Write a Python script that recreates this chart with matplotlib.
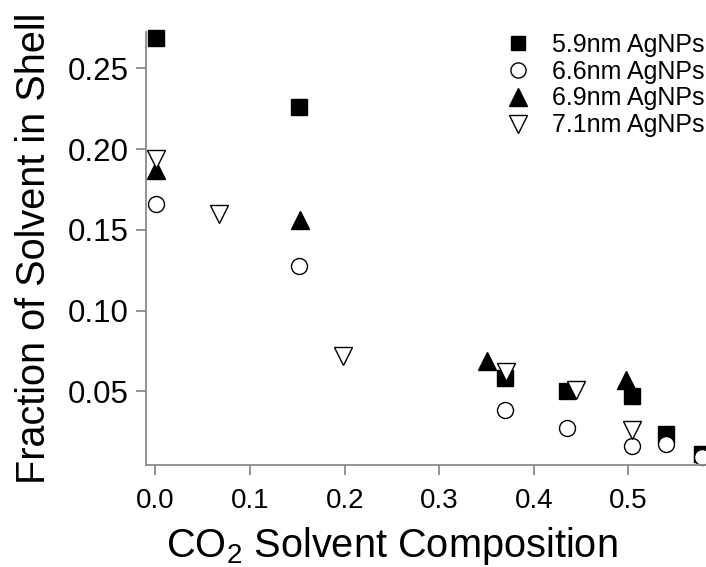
import matplotlib
matplotlib.use("Agg")
import matplotlib.pyplot as plt

plt.rcParams['font.family'] = ['Liberation Sans', 'DejaVu Sans']
plt.rcParams['mathtext.fontset'] = 'custom'
plt.rcParams['mathtext.rm'] = 'Liberation Sans'

# --- data ---
x_59 = [0.001, 0.152, 0.370, 0.435, 0.504, 0.540, 0.578]
y_59 = [0.269, 0.226, 0.0585, 0.050, 0.047, 0.0234, 0.0114]

x_66 = [0.001, 0.152, 0.370, 0.435, 0.504, 0.540, 0.578]
y_66 = [0.166, 0.1276, 0.0387, 0.0275, 0.0165, 0.0172, 0.0093]

x_69 = [0.001, 0.153, 0.351, 0.497]
y_69 = [0.187, 0.156, 0.0688, 0.0572]

x_71 = [0.001, 0.067, 0.1985, 0.371, 0.445, 0.504]
y_71 = [0.1936, 0.160, 0.0717, 0.062, 0.0506, 0.0263]

labels = ["5.9nm AgNPs", "6.6nm AgNPs", "6.9nm AgNPs", "7.1nm AgNPs"]
xticks = [0.0, 0.1, 0.2, 0.3, 0.4, 0.5]
yticks = [0.05, 0.10, 0.15, 0.20, 0.25]

W, H = 706, 567
fig = plt.figure(figsize=(W / 100, H / 100), dpi=100)
# axes box in pixels: left 145.7, right 706, top 32, bottom 465.3
ax = fig.add_axes([145.7 / W, 1 - 465.3 / H, (W - 145.7) / W, (465.3 - 32) / H])

ax.plot(x_59, y_59, 's', ms=11, mfc='black', mec='black', mew=1, label=labels[0], clip_on=False)
ax.plot(x_66, y_66, 'o', ms=11.5, mfc='white', mec='black', mew=1, label=labels[1], clip_on=False)
ax.plot(x_69, y_69, '^', ms=13, mfc='black', mec='black', mew=1, label=labels[2], clip_on=False)
ax.plot(x_71, y_71, 'v', ms=13, mfc='white', mec='black', mew=1, label=labels[3], clip_on=False)

ax.set_xlim(-0.0103, 0.582)
ax.set_ylim(0.0043, 0.2725)
ax.set_xticks(xticks)
ax.set_xticklabels([f"{t:.1f}" for t in xticks])
ax.set_yticks(yticks)
ax.set_yticklabels([f"{t:.2f}" for t in yticks])

gray = '#8a8a8a'
for s in ['top', 'right']:
    ax.spines[s].set_visible(False)
for s in ['left', 'bottom']:
    ax.spines[s].set_color(gray)
    ax.spines[s].set_linewidth(1.3)
ax.tick_params(axis='both', colors=gray, labelcolor='black', width=1.3, length=7.5)
ax.tick_params(axis='x', pad=9, labelsize=20)
ax.tick_params(axis='y', pad=5, labelsize=22.5)

ax.set_xlabel(r'CO$_\mathrm{2}$ Solvent Composition', fontsize=28.6, va='baseline')
ax.xaxis.set_label_coords(0.44, -0.2116)
ax.set_ylabel('Fraction of Solvent in Shell', fontsize=28.5, va='baseline')
ax.yaxis.set_label_coords(-0.1797, 0.5)

fig.legend(loc='upper left', bbox_to_anchor=(505.7 / W, 1 - 33 / H), frameon=False,
           fontsize=18, handlelength=1.0, handletextpad=0.85, borderpad=0,
           labelspacing=0.11, borderaxespad=0, markerscale=0.95)

fig.savefig('out.png', dpi=100)
